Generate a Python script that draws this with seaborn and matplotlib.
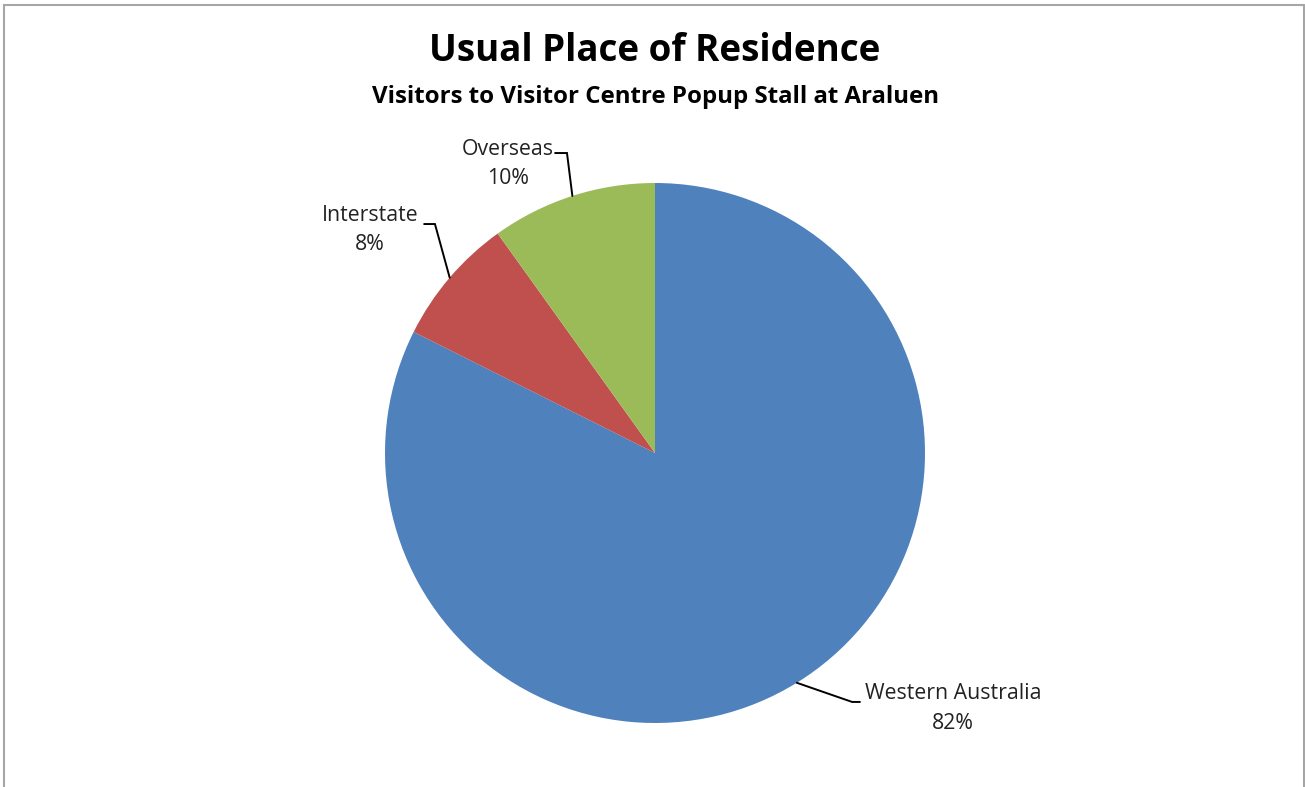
import numpy as np
import matplotlib
matplotlib.use("Agg")
import matplotlib.pyplot as plt
import seaborn as sns
from matplotlib.lines import Line2D

categories = ["Western Australia", "Interstate", "Overseas"]
shares = [82.4, 7.7, 9.9]
colors = ["#4F81BD", "#C0504D", "#9BBB59"]
title = "Usual Place of Residence"
subtitle = "Visitors to Visitor Centre Popup Stall at Araluen"

sns.set_theme(style="white")
plt.rcParams["font.family"] = ["Open Sans", "DejaVu Sans"]

W, H = 1305, 787
fig = plt.figure(figsize=(W / 100, H / 100), dpi=100)
fig.patch.set_facecolor("white")

# outer chart border
for xs, ys in [([4 / W, 1304 / W], [1 - 5 / H, 1 - 5 / H]),
               ([4 / W, 4 / W], [0, 1 - 5 / H]),
               ([1304 / W, 1304 / W], [0, 1 - 5 / H])]:
    fig.add_artist(Line2D(xs, ys, color="#A6A6A6", lw=1.5))

cx, cy, R = 655, 453, 270
ax = fig.add_axes([(cx - R) / W, (H - cy - R) / H, 2 * R / W, 2 * R / H])
wedges, _ = ax.pie(shares, colors=colors, startangle=90, counterclock=False,
                   radius=1, wedgeprops=dict(linewidth=0))
ax.set_xlim(-1, 1)
ax.set_ylim(-1, 1)
ax.set_aspect("equal")
ax.axis("off")

# label layout (text centre, elbow, line end) in axis units
layout = {
    "Western Australia": dict(text=(1.104, -0.947), elbow=(0.730, -0.922), end=(0.759, -0.922)),
    "Interstate": dict(text=(-1.056, 0.826), elbow=(-0.815, 0.848), end=(-0.855, 0.848)),
    "Overseas": dict(text=(-0.544, 1.070), elbow=(-0.326, 1.111), end=(-0.37, 1.111)),
}

for w, cat, val in zip(wedges, categories, shares):
    mid = np.deg2rad((w.theta1 + w.theta2) / 2)
    px, py = np.cos(mid), np.sin(mid)
    L = layout[cat]
    ax.plot([px, L["elbow"][0], L["end"][0]], [py, L["elbow"][1], L["end"][1]],
            color="black", lw=1.4, clip_on=False, solid_joinstyle="miter")
    ax.text(L["text"][0], L["text"][1], f"{cat}\n{val:.0f}%", ha="center", va="center",
            fontsize=15.3, color="#222222", linespacing=1.55, clip_on=False)

fig.text(655 / W, 1 - 51 / H, title, ha="center", va="center",
         fontsize=26.5, fontweight="bold", color="black")
fig.text(655 / W, 1 - 97 / H, subtitle, ha="center", va="center",
         fontsize=17.3, fontweight="bold", color="black")

fig.savefig("out.png", dpi=100, facecolor="white")
